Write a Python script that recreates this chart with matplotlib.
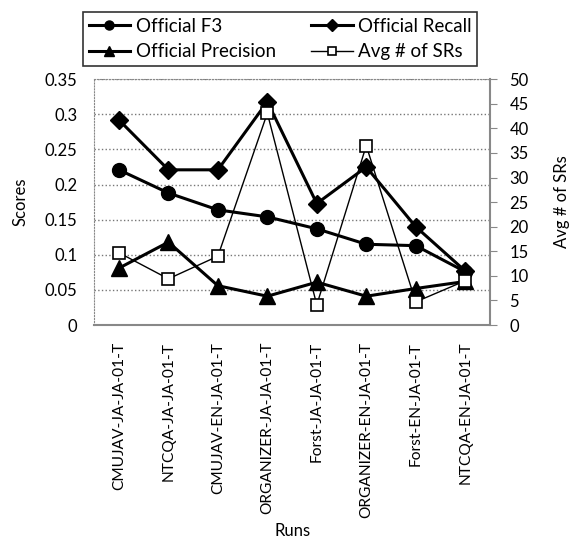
import matplotlib
matplotlib.use("Agg")
import matplotlib.pyplot as plt

plt.rcParams['font.family'] = ['Lato', 'DejaVu Sans']

# runs on the x axis
runs = ["CMUJAV-JA-JA-01-T", "NTCQA-JA-JA-01-T", "CMUJAV-EN-JA-01-T",
        "ORGANIZER-JA-JA-01-T", "Forst-JA-JA-01-T", "ORGANIZER-EN-JA-01-T",
        "Forst-EN-JA-01-T", "NTCQA-EN-JA-01-T"]

# scores
f3 = [0.221, 0.188, 0.164, 0.154, 0.137, 0.115, 0.113, 0.076]
recall = [0.292, 0.221, 0.221, 0.318, 0.173, 0.225, 0.140, 0.077]
precision = [0.081, 0.118, 0.056, 0.041, 0.061, 0.041, 0.052, 0.062]
avg_srs = [14.7, 9.4, 14.0, 43.1, 4.1, 36.5, 4.7, 9.0]

fig = plt.figure(figsize=(5.71, 5.39), dpi=100)
ax = fig.add_axes([0.165, 0.397, 0.693, 0.456])
x = range(len(runs))

l1, = ax.plot(x, f3, color='black', lw=2.2, marker='o', ms=10, label='Official F3')
l3, = ax.plot(x, recall, color='black', lw=2.2, marker='D', ms=9, label='Official Recall')
l2, = ax.plot(x, precision, color='black', lw=2.2, marker='^', ms=11, label='Official Precision')

ax.set_ylim(0, 0.35)
ax.set_yticks([0, 0.05, 0.1, 0.15, 0.2, 0.25, 0.3, 0.35])
ax.set_yticklabels(['0', '0.05', '0.1', '0.15', '0.2', '0.25', '0.3', '0.35'])
ax.set_xlim(-0.5, len(runs) - 0.5)
ax.set_xticks(list(x))
ax.set_xticklabels(runs, rotation=90, fontsize=11.2)
ax.tick_params(axis='x', length=0, pad=12)
ax.tick_params(axis='y', length=0, labelsize=12, pad=12)
ax.yaxis.grid(True, linestyle=':', color='#777777', lw=1)
ax.set_ylabel('Scores', fontsize=12, labelpad=12)
ax.set_xlabel('Runs', fontsize=12, va='center')
ax.xaxis.set_label_coords(0.5, -0.84)
for s in ['left', 'top']:
    ax.spines[s].set_linestyle(':')
    ax.spines[s].set_color('#888888')
ax.spines['bottom'].set_color('#888888')
ax.spines['bottom'].set_linewidth(1.5)
ax.spines['right'].set_visible(False)

ax2 = ax.twinx()
l4, = ax2.plot(x, avg_srs, color='black', lw=1, marker='s', ms=9,
               mfc='white', mec='black', mew=1.2, label='Avg # of SRs')
ax2.set_ylim(0, 50)
ax2.set_yticks(range(0, 51, 5))
ax2.tick_params(axis='y', length=5, color='#888888', labelsize=12, pad=9)
ax2.set_ylabel('Avg # of SRs', fontsize=12, labelpad=18)
for s in ['left', 'top', 'bottom']:
    ax2.spines[s].set_visible(False)
ax2.spines['right'].set_color('#888888')
ax2.spines['right'].set_linewidth(1.5)

leg = fig.legend(handles=[l1, l2, l3, l4], ncol=2, loc='upper left',
                 bbox_to_anchor=(83 / 571, 1 - 12 / 539), borderaxespad=0,
                 fontsize=13.5, frameon=True, fancybox=False, edgecolor='black',
                 markerscale=0.65, handlelength=2.2, handletextpad=0.3,
                 columnspacing=1.9, borderpad=0.3, labelspacing=0.45)
leg.get_frame().set_linewidth(1.2)

plt.savefig("out.png", dpi=100)
